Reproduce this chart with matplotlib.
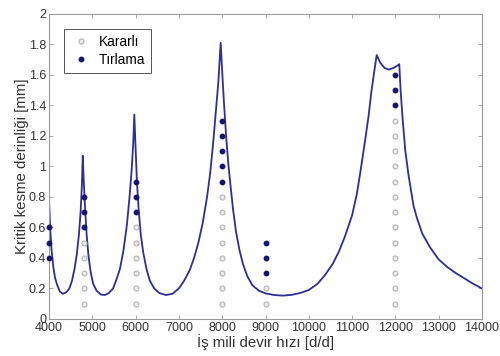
import numpy as np
import matplotlib
matplotlib.use("Agg")
import matplotlib.pyplot as plt

plt.rcParams['font.family']=['Liberation Sans','DejaVu Sans']

# stability lobe curve
rpm=[4000,4030,4060,4100,4140,4180,4250,4320,4400,4470,4530,4590,4640,4690,4730,4760,4780,
     4800,4830,4870,4910,4960,5020,5100,5200,5290,5380,5480,5560,5640,5720,5800,5860,5910,5945,5970,
     6000,6030,6070,6120,6180,6250,6330,6430,6550,6700,6850,7000,7120,7250,7350,7450,7550,7650,7720,
     7790,7850,7910,7965,
     8000,8040,8090,8140,8190,8250,8320,8400,8480,8580,8700,8850,9000,9200,9400,9600,9800,10000,
     10200,10380,10560,10700,10840,11000,11110,11200,11300,11380,11450,11510,11568,
     11650,11750,11850,11950,12040,12090,
     12120,12170,12230,12300,12350,12420,12500,12620,12800,13000,13200,13400,13600,13800,14000]
depth=[0.78,0.58,0.45,0.34,0.27,0.23,0.18,0.165,0.175,0.20,0.25,0.33,0.42,0.55,0.70,0.88,1.07,
       0.92,0.74,0.55,0.42,0.31,0.23,0.185,0.16,0.157,0.17,0.20,0.26,0.33,0.45,0.62,0.80,0.98,1.15,1.34,
       1.12,0.90,0.72,0.55,0.43,0.33,0.25,0.20,0.17,0.157,0.165,0.20,0.25,0.32,0.40,0.50,0.63,0.80,0.95,
       1.15,1.35,1.55,1.81,
       1.62,1.42,1.20,1.02,0.88,0.72,0.57,0.45,0.36,0.28,0.22,0.185,0.168,0.157,0.153,0.158,0.17,0.19,
       0.23,0.29,0.365,0.445,0.545,0.68,0.82,0.98,1.17,1.33,1.50,1.62,1.73,
       1.68,1.645,1.635,1.645,1.66,1.67,
       1.50,1.30,1.10,0.95,0.86,0.74,0.66,0.56,0.47,0.39,0.34,0.30,0.265,0.23,0.20]

# cutting tests
stable_rpm=[4800]*5+[6000]*6+[8000]*8+[9000]*2+[12000]*13
stable_depth=[0.1,0.2,0.3,0.4,0.5,
              0.1,0.2,0.3,0.4,0.5,0.6,
              0.1,0.2,0.3,0.4,0.5,0.6,0.7,0.8,
              0.1,0.2,
              0.1,0.2,0.3,0.4,0.5,0.6,0.7,0.8,0.9,1.0,1.1,1.2,1.3]
chatter_rpm=[4000]*3+[4800]*3+[6000]*3+[8000]*5+[9000]*3+[12000]*3
chatter_depth=[0.4,0.5,0.6,
               0.6,0.7,0.8,
               0.7,0.8,0.9,
               0.9,1.0,1.1,1.2,1.3,
               0.3,0.4,0.5,
               1.4,1.5,1.6]

fig=plt.figure(figsize=(5,3.56),dpi=100)
ax=fig.add_axes([0.098,0.104,0.866,0.857])

ax.plot(rpm,depth,color='#2e2e96',lw=1.3,zorder=2)
ax.plot(stable_rpm,stable_depth,'o',ls='none',ms=3.6,mfc='#ebebeb',mec='#b4b4b4',mew=0.8,
        label='Kararlı',zorder=3,clip_on=False)
ax.plot(chatter_rpm,chatter_depth,'o',ls='none',ms=3.2,mfc='#14146e',mec='#14146e',
        label='Tırlama',zorder=3,clip_on=False)

ax.set_xlim(4000,14000)
ax.set_ylim(0,2)
ax.set_xticks(np.arange(4000,14001,1000))
ax.set_yticks(np.arange(0,2.01,0.2))
ax.set_yticklabels(['0','0.2','0.4','0.6','0.8','1','1.2','1.4','1.6','1.8','2'])
ax.tick_params(direction='in',top=True,right=True,labelsize=9,colors='#999999',
               labelcolor='#333333',length=3,width=0.6,pad=2)
for s in ax.spines.values():
    s.set_color('#9a9a9a')
    s.set_linewidth(0.8)

ax.set_xlabel('İş mili devir hızı [d/d]',fontsize=10.8,color='#333333',labelpad=0)
ax.set_ylabel('Kritik kesme derinliği [mm]',fontsize=10.8,color='#333333',labelpad=0)

leg=ax.legend(loc='upper left',bbox_to_anchor=(0.035,0.951),fontsize=9.8,
              frameon=True,fancybox=False,framealpha=1,borderpad=0.45,borderaxespad=0,
              handletextpad=0.5,handlelength=1.6,labelspacing=0.3)
leg.get_frame().set_edgecolor('#555555')
leg.get_frame().set_linewidth(0.7)

fig.savefig('out.png',dpi=100)
